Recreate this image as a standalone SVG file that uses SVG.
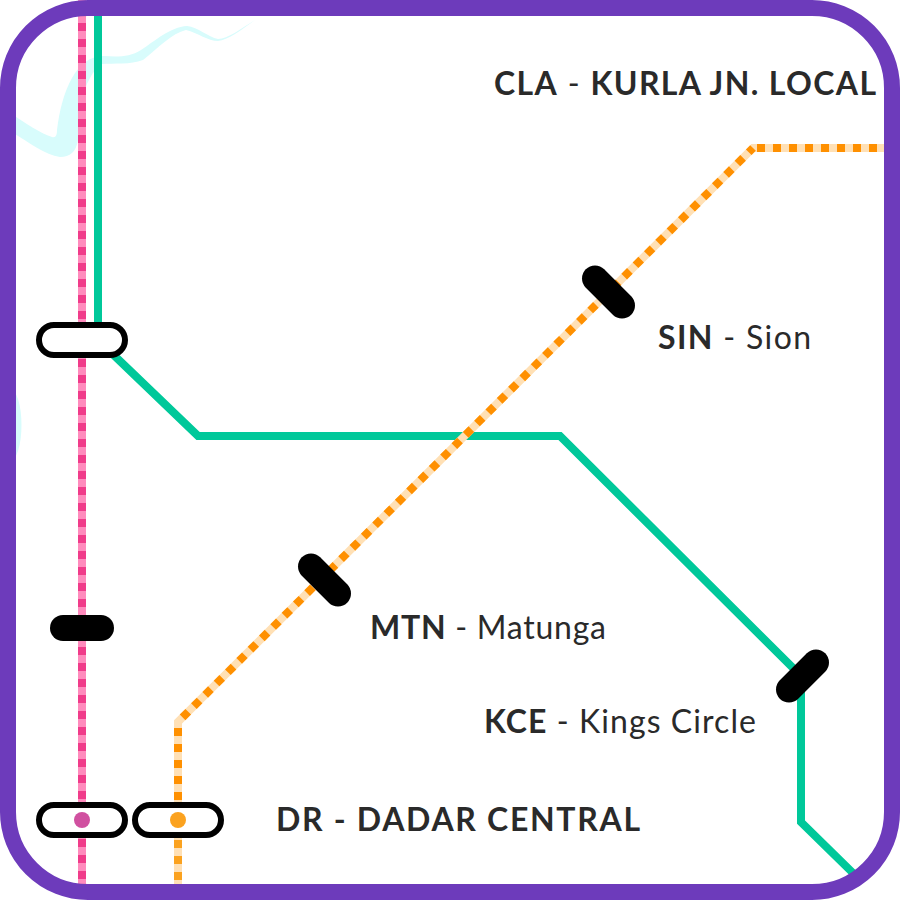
<svg xmlns="http://www.w3.org/2000/svg" width="900" height="900" viewBox="0 0 900 900">
<style>
.base{fill:none;stroke-width:8}
.pink-l{stroke:#ff8bbd}
.pink-d{stroke:#f03c8a;stroke-dasharray:8 8}
.or-l{stroke:#ffe0b5}
.or-d{stroke:#ff9000;stroke-dasharray:8 8}
.or-s{stroke:#fba21f;stroke-dasharray:8 8}
.green{fill:none;stroke:#00c89a;stroke-width:8}
.pill{fill:#fff;stroke:#000;stroke-width:6}
.tick{stroke:#000;stroke-width:26;stroke-linecap:round;fill:none}
.lbl{font-family:"Lato","Open Sans",sans-serif;font-size:32px;fill:#2a2a2a;font-weight:400}
.lbl .b{font-weight:700}
</style>
<rect width="900" height="900" fill="#fff"/>
<g id="water" fill="#d8fcfc">
<path d="M10 113 C25 123 42 134 52 137 C56 138 57 135 57 130 C59 112 64 92 72 78 C80 64 90 56 104 56 C118 57 130 57 141 50 C155 41 170 27 187 26 C198 27 208 37 218 39 C228 39 240 29 255 20 C240 31 228 40 218 41 C208 41 198 33 186 30 C172 33 158 48 143 60 C130 65 115 63 102 64 C92 70 86 85 81 100 L78 140 C76 152 70 157 60 157 C45 155 30 143 10 131 Z"/>
<ellipse cx="10" cy="425" rx="11.500" ry="36"/>
</g>
<g id="connectors">
<path class="base pink-l" d="M82 0V890"/>
<path class="base pink-d" d="M82 7V890"/>
<path class="green" d="M98 0V340L198 436H560L801 676V822L856 876"/>
<path class="base or-l" d="M893 148H753L178 722V890"/>
<path class="base or-d" d="M893 148H753"/>
<path class="base or-d" stroke-dashoffset="2" d="M753 148L178 722"/>
<path class="base or-d" d="M178 728V802"/>
<path class="base or-s" d="M178 840V890"/>
</g>
<g id="station-cla"><rect class="pill" x="39" y="325" width="86" height="30" rx="15"/></g>
<g id="station-sin"><path class="tick" d="M595 278.500L622 305.500"/></g>
<g id="station-mtn"><path class="tick" d="M311 566.500L338 593.500"/></g>
<g id="station-kce"><path class="tick" d="M816 662.500L789 689.500"/></g>
<g id="station-mid"><path class="tick" d="M63 628H101"/></g>
<g id="station-dr-a"><rect class="pill" x="39" y="805" width="86" height="30" rx="15"/><circle cx="82" cy="820" r="8" fill="#d050a0"/></g>
<g id="station-dr-b"><rect class="pill" x="135" y="805" width="86" height="30" rx="15"/><circle cx="178" cy="820" r="8" fill="#fba21f"/></g>
<g id="labels">
<text class="lbl" x="494" y="95" textLength="382"><tspan class="b">CLA</tspan> - <tspan class="b">KURLA JN. LOCAL</tspan></text>
<text class="lbl" x="658" y="349" textLength="153"><tspan class="b">SIN</tspan> - Sion</text>
<text class="lbl" x="370" y="639" textLength="236"><tspan class="b">MTN</tspan> - Matunga</text>
<text class="lbl" x="484" y="733" textLength="272"><tspan class="b">KCE</tspan> - Kings Circle</text>
<text class="lbl" x="276" y="831" textLength="364"><tspan class="b">DR - DADAR CENTRAL</tspan></text>
</g>
<rect id="frame" x="8" y="8" width="884" height="884" rx="80" fill="none" stroke="#6d3bbb" stroke-width="16"/>
</svg>
